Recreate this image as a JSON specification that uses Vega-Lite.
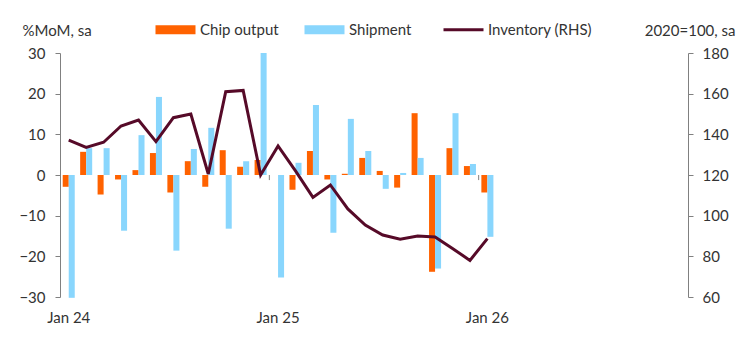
{
  "$schema": "https://vega.github.io/schema/vega-lite/v6.json",
  "width": 628,
  "height": 244,
  "autosize": {"type": "none"},
  "padding": {"left": 60, "top": 53, "right": 57, "bottom": 45},
  "config": {
    "font": "Lato",
    "view": {"stroke": null},
    "axis": {
      "labelFont": "Lato", "labelFontSize": 15, "labelColor": "#333333",
      "titleFont": "Lato", "titleFontSize": 15, "titleFontWeight": "normal", "titleColor": "#333333",
      "domainColor": "#808080", "tickColor": "#808080", "grid": false, "tickSize": 5
    }
  },
  "datasets": {
    "bars": [
      {"m": "2024-01", "s": "Chip output", "v": -2.9}, {"m": "2024-01", "s": "Shipment", "v": -30.2},
      {"m": "2024-02", "s": "Chip output", "v": 5.7}, {"m": "2024-02", "s": "Shipment", "v": 6.6},
      {"m": "2024-03", "s": "Chip output", "v": -4.8}, {"m": "2024-03", "s": "Shipment", "v": 6.6},
      {"m": "2024-04", "s": "Chip output", "v": -1.1}, {"m": "2024-04", "s": "Shipment", "v": -13.7},
      {"m": "2024-05", "s": "Chip output", "v": 1.2}, {"m": "2024-05", "s": "Shipment", "v": 9.8},
      {"m": "2024-06", "s": "Chip output", "v": 5.4}, {"m": "2024-06", "s": "Shipment", "v": 19.2},
      {"m": "2024-07", "s": "Chip output", "v": -4.3}, {"m": "2024-07", "s": "Shipment", "v": -18.6},
      {"m": "2024-08", "s": "Chip output", "v": 3.4}, {"m": "2024-08", "s": "Shipment", "v": 6.4},
      {"m": "2024-09", "s": "Chip output", "v": -2.9}, {"m": "2024-09", "s": "Shipment", "v": 11.6},
      {"m": "2024-10", "s": "Chip output", "v": 6.1}, {"m": "2024-10", "s": "Shipment", "v": -13.2},
      {"m": "2024-11", "s": "Chip output", "v": 2.0}, {"m": "2024-11", "s": "Shipment", "v": 3.4},
      {"m": "2024-12", "s": "Chip output", "v": 3.7}, {"m": "2024-12", "s": "Shipment", "v": 30.0},
      {"m": "2025-01", "s": "Chip output", "v": 0.0}, {"m": "2025-01", "s": "Shipment", "v": -25.2},
      {"m": "2025-02", "s": "Chip output", "v": -3.6}, {"m": "2025-02", "s": "Shipment", "v": 3.0},
      {"m": "2025-03", "s": "Chip output", "v": 5.9}, {"m": "2025-03", "s": "Shipment", "v": 17.2},
      {"m": "2025-04", "s": "Chip output", "v": -1.1}, {"m": "2025-04", "s": "Shipment", "v": -14.2},
      {"m": "2025-05", "s": "Chip output", "v": 0.3}, {"m": "2025-05", "s": "Shipment", "v": 13.8},
      {"m": "2025-06", "s": "Chip output", "v": 4.2}, {"m": "2025-06", "s": "Shipment", "v": 5.9},
      {"m": "2025-07", "s": "Chip output", "v": 1.0}, {"m": "2025-07", "s": "Shipment", "v": -3.4},
      {"m": "2025-08", "s": "Chip output", "v": -3.1}, {"m": "2025-08", "s": "Shipment", "v": 0.5},
      {"m": "2025-09", "s": "Chip output", "v": 15.2}, {"m": "2025-09", "s": "Shipment", "v": 4.2},
      {"m": "2025-10", "s": "Chip output", "v": -23.8}, {"m": "2025-10", "s": "Shipment", "v": -23.0},
      {"m": "2025-11", "s": "Chip output", "v": 6.6}, {"m": "2025-11", "s": "Shipment", "v": 15.2},
      {"m": "2025-12", "s": "Chip output", "v": 2.2}, {"m": "2025-12", "s": "Shipment", "v": 2.7},
      {"m": "2026-01", "s": "Chip output", "v": -4.3}, {"m": "2026-01", "s": "Shipment", "v": -15.2}
    ],
    "inv": [
      {"m": "2024-01", "v": 137.2}, {"m": "2024-02", "v": 133.6}, {"m": "2024-03", "v": 136.1},
      {"m": "2024-04", "v": 144.1}, {"m": "2024-05", "v": 147.0}, {"m": "2024-06", "v": 136.4},
      {"m": "2024-07", "v": 148.2}, {"m": "2024-08", "v": 150.0}, {"m": "2024-09", "v": 120.5},
      {"m": "2024-10", "v": 161.0}, {"m": "2024-11", "v": 161.6}, {"m": "2024-12", "v": 120.0},
      {"m": "2025-01", "v": 134.3}, {"m": "2025-02", "v": 122.0}, {"m": "2025-03", "v": 109.0},
      {"m": "2025-04", "v": 115.1}, {"m": "2025-05", "v": 103.3}, {"m": "2025-06", "v": 95.4},
      {"m": "2025-07", "v": 90.5}, {"m": "2025-08", "v": 88.4}, {"m": "2025-09", "v": 90.0},
      {"m": "2025-10", "v": 89.5}, {"m": "2025-11", "v": 83.9}, {"m": "2025-12", "v": 78.0},
      {"m": "2026-01", "v": 88.7}
    ],
    "yearticks": [{"m": "2025-01"}, {"m": "2026-01"}]
  },
  "layer": [
    {
      "layer": [
        {
          "data": {"name": "bars"},
          "mark": {"type": "bar"},
          "encoding": {
            "x": {
              "field": "m", "type": "ordinal",
              "scale": {
                "domain": ["2024-01","2024-02","2024-03","2024-04","2024-05","2024-06","2024-07","2024-08","2024-09","2024-10","2024-11","2024-12",
                           "2025-01","2025-02","2025-03","2025-04","2025-05","2025-06","2025-07","2025-08","2025-09","2025-10","2025-11","2025-12",
                           "2026-01","2026-02","2026-03","2026-04","2026-05","2026-06","2026-07","2026-08","2026-09","2026-10","2026-11","2026-12"],
                "paddingInner": 0.31, "paddingOuter": 0.155
              },
              "axis": {
                "title": null, "values": ["2024-01", "2025-01", "2026-01"],
                "labelExpr": "'Jan ' + slice(datum.value, 2, 4)",
                "labelAngle": 0, "domain": false, "ticks": false, "labelPadding": 13
              }
            },
            "xOffset": {"field": "s", "type": "nominal", "scale": {"domain": ["Chip output", "Shipment"], "paddingInner": 0, "paddingOuter": 0}},
            "y": {
              "field": "v", "type": "quantitative",
              "scale": {"domain": [-30, 30], "nice": false, "zero": false},
              "axis": {
                "values": [-30, -20, -10, 0, 10, 20, 30], "labelPadding": 10,
                "title": "%MoM, sa", "titleAngle": 0, "titleAlign": "left", "titleBaseline": "middle",
                "titleX": -38, "titleY": -23
              }
            },
            "color": {
              "field": "s", "type": "nominal",
              "scale": {"domain": ["Chip output", "Shipment", "Inventory (RHS)"], "range": ["#FF6200", "#89D6FD", "#560A28"]},
              "legend": {
                "orient": "none", "legendX": 108, "legendY": -31, "direction": "horizontal", "title": null,
                "labelFont": "Lato", "labelFontSize": 15, "labelColor": "#333333", "labelOffset": 17, "columnPadding": 25,
                "gridAlign": "each",
                "padding": 0, "symbolSize": 400,
                "encode": {
                  "symbols": {
                    "update": {
                      "shape": {"signal": "datum.value === 'Inventory (RHS)' ? 'M-2,0H2' : 'M-2,-0.45H2V0.45H-2Z'"},
                      "strokeWidth": {"signal": "datum.value === 'Inventory (RHS)' ? 3 : 0"},
                      "fill": {"signal": "datum.value === 'Inventory (RHS)' ? 'transparent' : scale('color', datum.value)"},
                      "stroke": {"signal": "scale('color', datum.value)"},
                      "opacity": {"value": 1},
                      "size": {"value": 400}
                    }
                  }
                }
              }
            }
          }
        },
        {
          "mark": {"type": "rule", "color": "#808080", "strokeWidth": 1},
          "encoding": {"y": {"datum": 0}}
        },
        {
          "data": {"name": "yearticks"},
          "mark": {"type": "rule", "color": "#808080", "strokeWidth": 1},
          "encoding": {
            "x": {"field": "m", "type": "ordinal", "bandPosition": -0.225},
            "y": {"datum": 0},
            "y2": {"datum": -1.25}
          }
        }
      ]
    },
    {
      "data": {"name": "inv"},
      "mark": {"type": "line", "strokeWidth": 3},
      "encoding": {
        "x": {"field": "m", "type": "ordinal"},
        "y": {
          "field": "v", "type": "quantitative",
          "scale": {"domain": [60, 180], "nice": false, "zero": false},
          "axis": {
            "orient": "right", "values": [60, 80, 100, 120, 140, 160, 180], "labelPadding": 9,
            "title": "2020=100, sa", "titleAngle": 0, "titleAlign": "right", "titleBaseline": "middle",
            "titleX": 47, "titleY": -23
          }
        },
        "color": {"datum": "Inventory (RHS)"}
      }
    }
  ],
  "resolve": {"scale": {"y": "independent"}}
}
